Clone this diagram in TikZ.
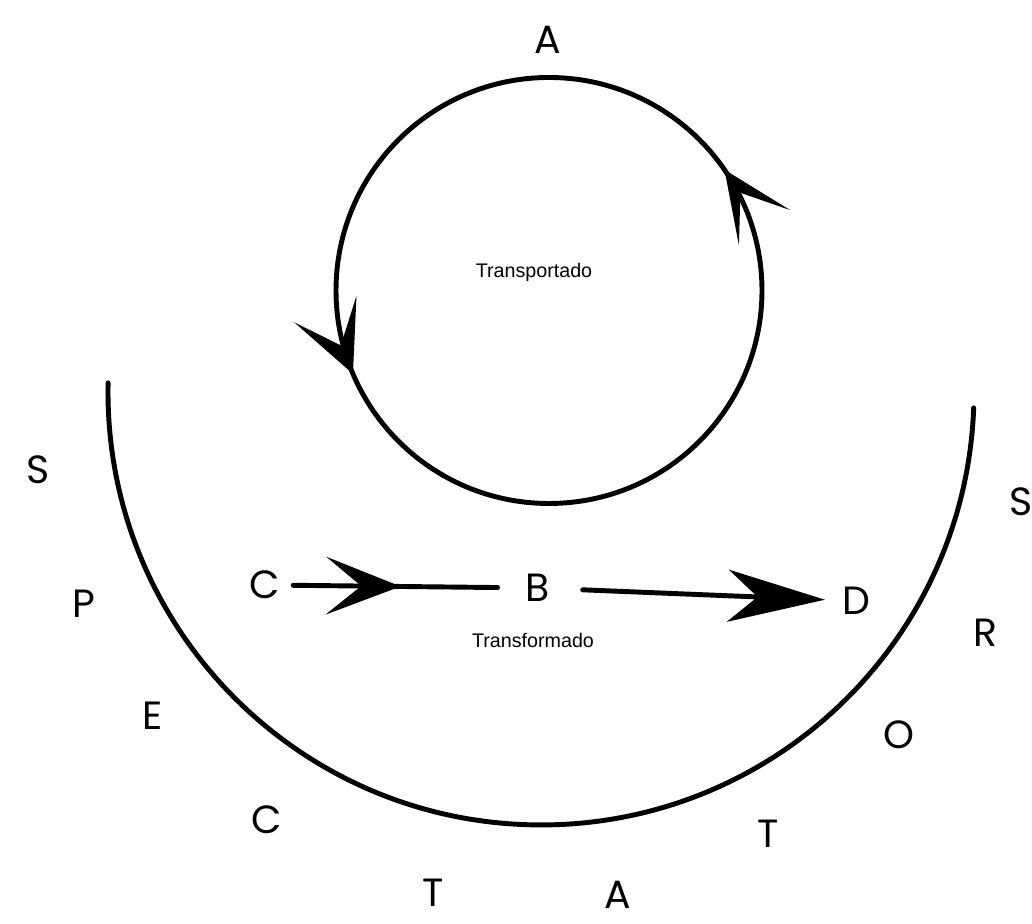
\documentclass[tikz,border=0pt]{standalone}
\usepackage{fontspec}
\setmainfont{Poppins}
\newfontfamily\captionfont{Liberation Sans}
\usetikzlibrary{arrows.meta,decorations.markings,positioning}

\begin{document}
\begin{tikzpicture}[
  x=0.025cm, y=0.025cm,
  letter/.style={inner sep=0pt, font=\fontsize{28}{32}\selectfont},
  caption/.style={inner sep=0pt, font=\captionfont\fontsize{14}{17}\selectfont},
  stroke/.style={line width=3.5pt, line cap=round},
  loop/.style={line width=3.5pt, postaction={decorate},
    decoration={markings,
      mark=at position 0.096 with {\arrow{Stealth[length=50pt, width=44pt, inset=30pt]}},
      mark=at position 0.564 with {\arrow{Stealth[length=50pt, width=48pt, inset=28pt]}}}},
  midarrow/.style={postaction={decorate},
    decoration={markings,
      mark=at position 0.49 with {\arrow{Stealth[length=53pt, width=41pt, inset=25pt]}}}}
]
  \useasboundingbox (0,0) rectangle (1032,924);
  % Upper loop (transported)
  \coordinate (loopc) at (549,633.5);
  \draw[loop] (loopc) circle [radius=213];
  \node[letter] (A) at (548,884) {A};
  \node[caption] (transp) at (534,652) {Transportado};
  % Lower half circle
  \draw[stroke] (108.1,541.1) arc [start angle=178.8, end angle=357.9, radius=433];
  % C -> B -> D (transformed)
  \node[letter] (C) at (265,339) {C};
  \node[letter] (B) at (538,336) {B};
  \node[letter] (D) at (856,323) {D};
  \node[caption] (transf) at (533,284) {Transformado};
  \draw[stroke, midarrow, shorten <=9pt, shorten >=20pt] (C) -- (B);
  \draw[stroke, -{Stealth[length=69pt, width=37pt, inset=21pt]},
        shorten <=23pt, shorten >=12pt] (B) -- (D);
  % Letters round the bowl: left side
  \node[letter] (s1) at (38,454) {S};
  \node[letter] (p1) at (84,320) {P};
  \node[letter] (e1) at (153,208) {E};
  \node[letter] (c1) at (267,104) {C};
  \node[letter] (t1) at (433,31) {T};
  % right side
  \node[letter] (a1) at (618,29) {A};
  \node[letter] (t2) at (768,90) {T};
  \node[letter] (o1) at (899,189) {O};
  \node[letter] (r1) at (985,291) {R};
  \node[letter] (s2) at (1021,422) {S};
\end{tikzpicture}
\end{document}
